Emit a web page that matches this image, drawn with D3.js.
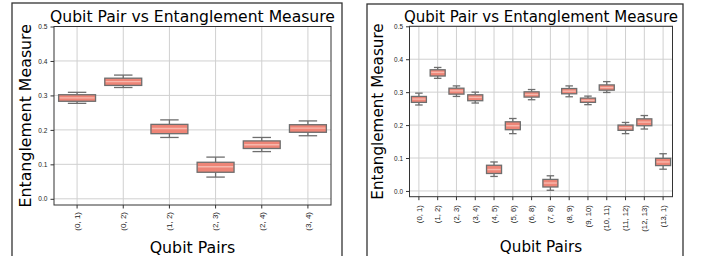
<!DOCTYPE html>
<html lang="en">
<head>
    <meta charset="UTF-8">
    <title>Qubit Pair vs Entanglement Measure</title>
    <script src="https://d3js.org/d3.v7.min.js"></script>
<style>
    body { margin: 0; background: #fff; }
    svg { font-family: "DejaVu Sans", sans-serif; }
</style>
</head>
<body>
    <div class="container"></div>
</body>

<script>
    // left chart data (5 qubits)
    const leftPairs = ["(0, 1)", "(0, 2)", "(1, 2)", "(2, 3)", "(2, 4)", "(3, 4)"];
    const leftLow  = [0.277, 0.323, 0.178, 0.063, 0.137, 0.183];
    const leftQ1   = [0.283, 0.329, 0.189, 0.077, 0.146, 0.193];
    const leftMed  = [0.293, 0.340, 0.204, 0.093, 0.157, 0.205];
    const leftQ3   = [0.302, 0.350, 0.216, 0.106, 0.168, 0.215];
    const leftHigh = [0.309, 0.359, 0.229, 0.121, 0.178, 0.226];

    // right chart data (14 qubits)
    const rightPairs = ["(0, 1)", "(1, 2)", "(2, 3)", "(3, 4)", "(4, 5)", "(5, 6)", "(6, 8)",
                        "(7, 8)", "(8, 9)", "(9, 10)", "(10, 11)", "(11, 12)", "(12, 13)", "(13, 1)"];
    const rightLow  = [0.261, 0.342, 0.287, 0.267, 0.044, 0.174, 0.277, 0.002, 0.286, 0.262, 0.299, 0.174, 0.188, 0.066];
    const rightQ1   = [0.269, 0.349, 0.294, 0.274, 0.053, 0.186, 0.285, 0.012, 0.295, 0.269, 0.306, 0.184, 0.198, 0.077];
    const rightMed  = [0.279, 0.360, 0.304, 0.284, 0.065, 0.198, 0.293, 0.024, 0.303, 0.275, 0.314, 0.192, 0.209, 0.088];
    const rightQ3   = [0.287, 0.368, 0.312, 0.292, 0.078, 0.210, 0.301, 0.035, 0.311, 0.282, 0.322, 0.200, 0.219, 0.099];
    const rightHigh = [0.297, 0.375, 0.319, 0.300, 0.088, 0.220, 0.308, 0.046, 0.319, 0.288, 0.332, 0.208, 0.229, 0.113];

    const yTicks = [0.0, 0.1, 0.2, 0.3, 0.4, 0.5];

    const svg = d3.select(".container")
        .append("svg")
        .attr("width", 702)
        .attr("height", 256);

    function drawPanel(p) {
        const g = svg.append("g");

        // figure frame
        g.append("rect")
            .attr("x", p.frame[0]).attr("y", p.frame[1])
            .attr("width", p.frame[2] - p.frame[0]).attr("height", 300)
            .attr("fill", "none").attr("stroke", "#333").attr("stroke-width", 1.3);

        const x = d3.scaleBand().domain(p.pairs).range([p.left, p.right]).padding(0);
        const y = d3.scaleLinear().domain([p.ymin, 0.5]).range([p.bottom, p.top]);

        // grid
        g.append("g").selectAll("line").data(p.pairs).join("line")
            .attr("x1", d => x(d) + x.bandwidth() / 2).attr("x2", d => x(d) + x.bandwidth() / 2)
            .attr("y1", p.top).attr("y2", p.bottom)
            .attr("stroke", "#d0d0d0").attr("stroke-width", 1);
        g.append("g").selectAll("line").data(yTicks).join("line")
            .attr("x1", p.left).attr("x2", p.right)
            .attr("y1", d => y(d)).attr("y2", d => y(d))
            .attr("stroke", "#d0d0d0").attr("stroke-width", 1);

        // axes
        const xAxis = g.append("g")
            .attr("transform", `translate(0,${p.bottom})`)
            .call(d3.axisBottom(x).tickSizeOuter(0).tickSize(3.5).tickPadding(3));
        xAxis.select(".domain").remove();
        xAxis.selectAll("line").attr("stroke", "#333");
        xAxis.selectAll("text")
            .attr("font-size", p.xTickSize)
            .attr("fill", "#222")
            .attr("transform", "rotate(-90)")
            .attr("text-anchor", "end")
            .attr("x", -p.xTickGap).attr("y", 0)
            .attr("dy", "0.35em");

        const yAxis = g.append("g")
            .attr("transform", `translate(${p.left},0)`)
            .call(d3.axisLeft(y).tickValues(yTicks).tickFormat(d3.format(".1f")).tickSize(3.5).tickPadding(3));
        yAxis.select(".domain").remove();
        yAxis.selectAll("line").attr("stroke", "#333");
        yAxis.selectAll("text").attr("font-size", p.yTickSize).attr("fill", "#222");

        // boxes
        const rows = p.pairs.map((d, i) => ({
            pair: d, low: p.low[i], q1: p.q1[i], med: p.med[i], q3: p.q3[i], high: p.high[i]
        }));
        const bw = x.bandwidth() * 0.8;
        const cw = bw * 0.5;
        const boxes = g.append("g").selectAll("g").data(rows).join("g")
            .attr("transform", d => `translate(${x(d.pair) + x.bandwidth() / 2},0)`);

        boxes.append("line")
            .attr("x1", 0).attr("x2", 0).attr("y1", d => y(d.high)).attr("y2", d => y(d.q3))
            .attr("stroke", "#6e6e6e").attr("stroke-width", 1.3);
        boxes.append("line")
            .attr("x1", 0).attr("x2", 0).attr("y1", d => y(d.q1)).attr("y2", d => y(d.low))
            .attr("stroke", "#6e6e6e").attr("stroke-width", 1.3);
        boxes.append("line")
            .attr("x1", -cw / 2).attr("x2", cw / 2).attr("y1", d => y(d.high)).attr("y2", d => y(d.high))
            .attr("stroke", "#6e6e6e").attr("stroke-width", 1.3);
        boxes.append("line")
            .attr("x1", -cw / 2).attr("x2", cw / 2).attr("y1", d => y(d.low)).attr("y2", d => y(d.low))
            .attr("stroke", "#6e6e6e").attr("stroke-width", 1.3);
        boxes.append("rect")
            .attr("x", -bw / 2).attr("width", bw)
            .attr("y", d => y(d.q3)).attr("height", d => y(d.q1) - y(d.q3))
            .attr("fill", "#ee8577").attr("stroke", "#6e6e6e").attr("stroke-width", 1.3);
        boxes.append("line")
            .attr("x1", -bw / 2 + 1).attr("x2", bw / 2 - 1).attr("y1", d => y(d.med)).attr("y2", d => y(d.med))
            .attr("stroke", "#f7b8ad").attr("stroke-width", 1.4);

        // plot border
        g.append("rect")
            .attr("x", p.left).attr("y", p.top)
            .attr("width", p.right - p.left).attr("height", p.bottom - p.top)
            .attr("fill", "none").attr("stroke", "#333").attr("stroke-width", 1);

        // labels
        g.append("text")
            .attr("x", (p.left + p.right) / 2).attr("y", p.titleY)
            .attr("text-anchor", "middle").attr("font-size", p.titleSize).attr("fill", "#000")
            .text("Qubit Pair vs Entanglement Measure");
        g.append("text")
            .attr("transform", `translate(${p.yLabelX},${(p.top + p.bottom) / 2}) rotate(-90)`)
            .attr("text-anchor", "middle").attr("dy", "0.35em")
            .attr("font-size", p.labelSize).attr("fill", "#000")
            .text("Entanglement Measure");
        g.append("text")
            .attr("x", (p.left + p.right) / 2).attr("y", p.xLabelY)
            .attr("text-anchor", "middle").attr("font-size", p.labelSize).attr("fill", "#000")
            .text("Qubit Pairs");
    }

    drawPanel({
        pairs: leftPairs, low: leftLow, q1: leftQ1, med: leftMed, q3: leftQ3, high: leftHigh,
        frame: [12, 3, 342], left: 54, right: 331, top: 26.5, bottom: 205, ymin: -0.018,
        titleY: 22, titleSize: 15.6, labelSize: 15.8, yLabelX: 25, xLabelY: 253,
        xTickSize: 8, xTickGap: 7, yTickSize: 6.6
    });

    drawPanel({
        pairs: rightPairs, low: rightLow, q1: rightQ1, med: rightMed, q3: rightQ3, high: rightHigh,
        frame: [367, 4, 683], left: 409.5, right: 672.5, top: 26.3, bottom: 196.7, ymin: -0.0175,
        titleY: 22, titleSize: 15, labelSize: 15.2, yLabelX: 378, xLabelY: 252,
        xTickSize: 7.7, xTickGap: 8.5, yTickSize: 6.4
    });
</script>
</html>
